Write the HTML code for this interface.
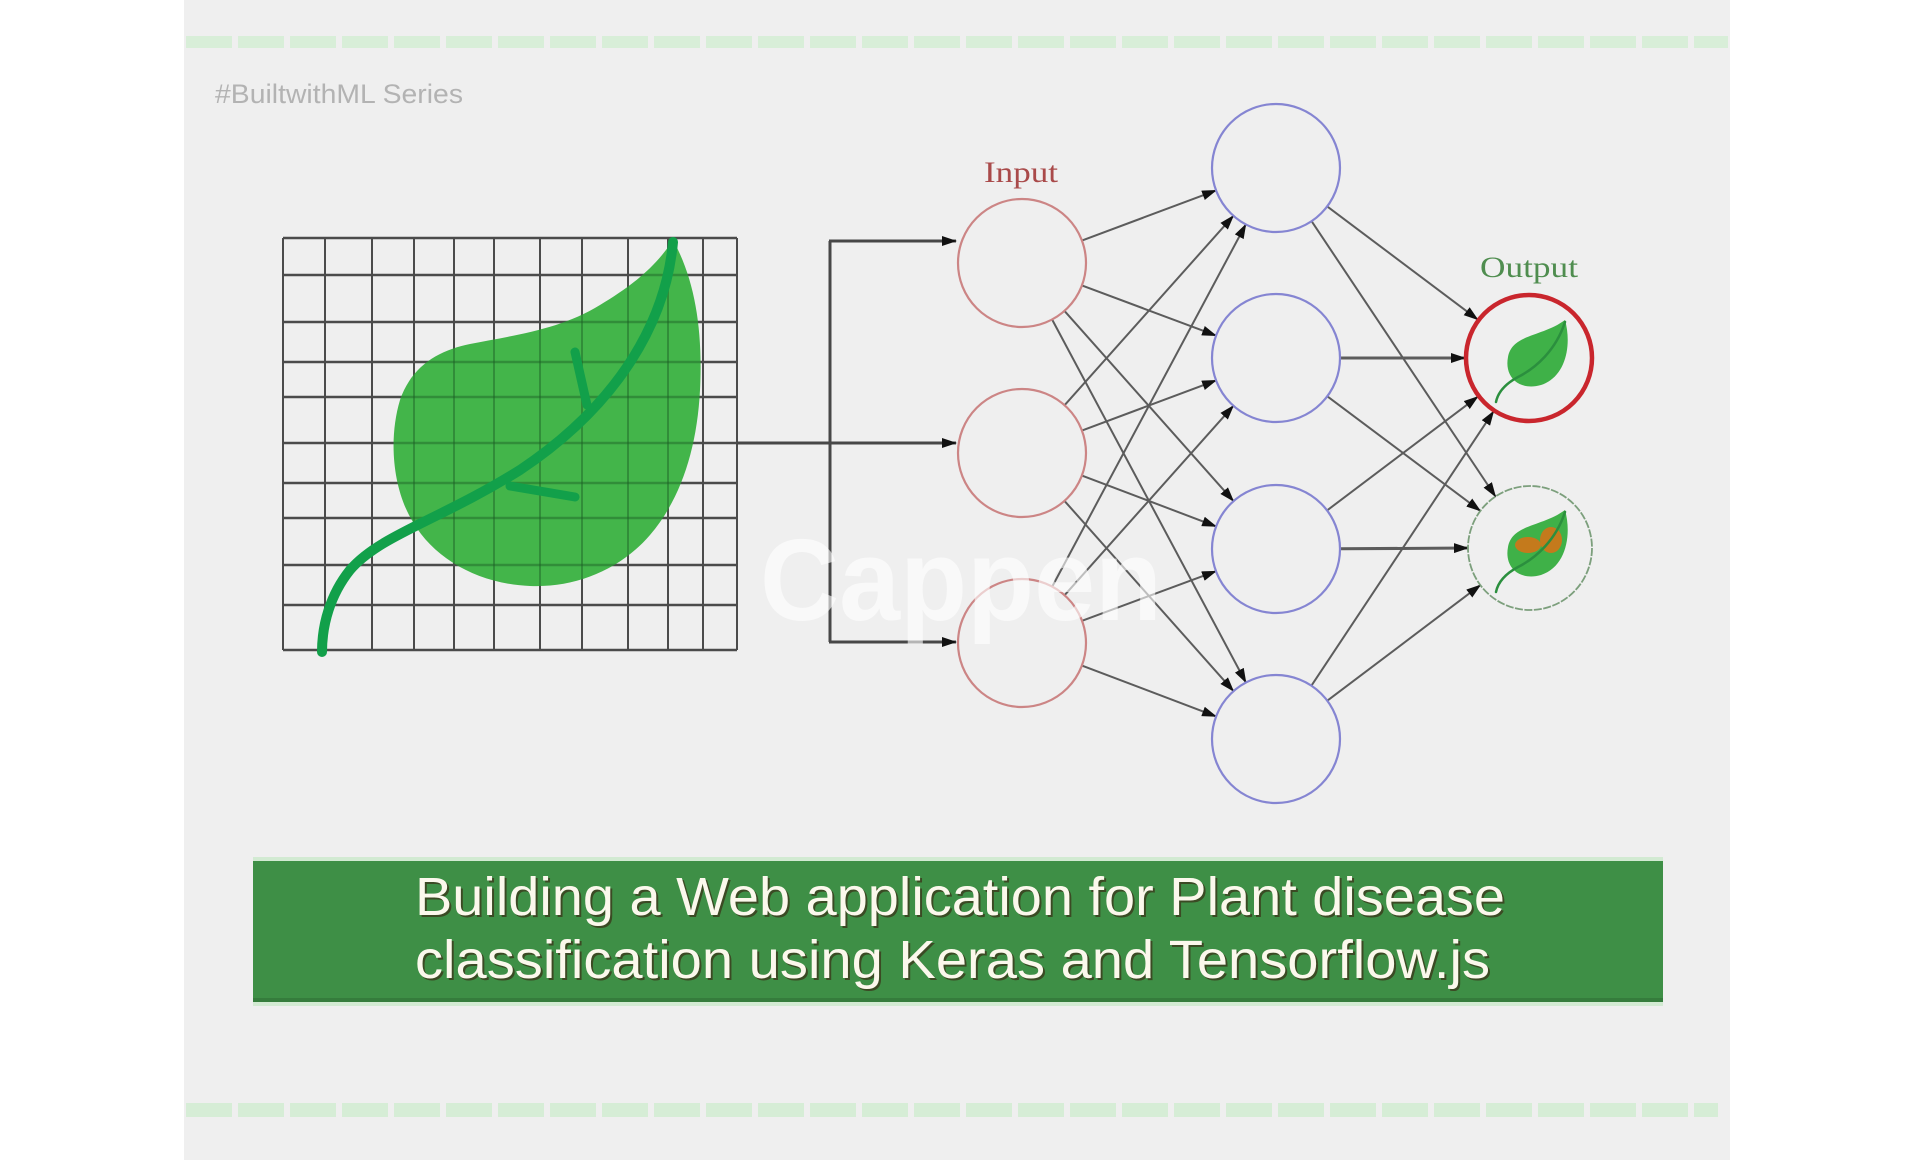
<!DOCTYPE html>
<html>
<head>
<meta charset="utf-8">
<style>
html,body{margin:0;padding:0;background:#ffffff;}
svg{display:block;}
</style>
</head>
<body>
<svg width="1920" height="1160" viewBox="0 0 1920 1160" xmlns="http://www.w3.org/2000/svg">
  <defs>
    <marker id="ah" markerUnits="userSpaceOnUse" markerWidth="16" markerHeight="10" refX="14" refY="5" orient="auto">
      <path d="M0,0 L15,5 L0,10 Z" fill="#111"/>
    </marker>
    <clipPath id="leafclip">
      <path d="M673,240 C695,280 703,330 700,390 C697,450 680,500 650,535 C620,570 575,588 530,586 C480,584 435,560 413,522 C393,490 388,440 400,400 C412,365 440,350 470,344 C510,336 560,330 600,305 C630,287 655,268 673,240 Z"/>
    </clipPath>
  </defs>

  <!-- panel -->
  <rect x="184" y="0" width="1546" height="1160" fill="#efefef"/>

  <!-- dashed strips -->
  <line x1="186" y1="42" x2="1728" y2="42" stroke="#d8eed8" stroke-width="12" stroke-dasharray="46 6"/>
  <line x1="186" y1="1110" x2="1718" y2="1110" stroke="#d6edd6" stroke-width="14" stroke-dasharray="46 6"/>

  <!-- series label -->
  <text x="215" y="103" font-family="Liberation Sans, sans-serif" font-size="27" fill="#b3b3b3" textLength="248" lengthAdjust="spacingAndGlyphs">#BuiltwithML Series</text>

  <!-- grid -->
  <g stroke="#4b4b4b" stroke-width="2">
    <line x1="283" y1="238" x2="283" y2="650"/>
    <line x1="325" y1="238" x2="325" y2="650"/>
    <line x1="372" y1="238" x2="372" y2="650"/>
    <line x1="414" y1="238" x2="414" y2="650"/>
    <line x1="454" y1="238" x2="454" y2="650"/>
    <line x1="494" y1="238" x2="494" y2="650"/>
    <line x1="540" y1="238" x2="540" y2="650"/>
    <line x1="582" y1="238" x2="582" y2="650"/>
    <line x1="628" y1="238" x2="628" y2="650"/>
    <line x1="668" y1="238" x2="668" y2="650"/>
    <line x1="703" y1="238" x2="703" y2="650"/>
    <line x1="737" y1="238" x2="737" y2="650"/>
  </g>
  <g stroke="#4b4b4b" stroke-width="2.6">
    <line x1="283" y1="238" x2="737" y2="238"/>
    <line x1="283" y1="275" x2="737" y2="275"/>
    <line x1="283" y1="322" x2="737" y2="322"/>
    <line x1="283" y1="362" x2="737" y2="362"/>
    <line x1="283" y1="397" x2="737" y2="397"/>
    <line x1="283" y1="443" x2="737" y2="443"/>
    <line x1="283" y1="483" x2="737" y2="483"/>
    <line x1="283" y1="518" x2="737" y2="518"/>
    <line x1="283" y1="565" x2="737" y2="565"/>
    <line x1="283" y1="605" x2="737" y2="605"/>
    <line x1="283" y1="650" x2="737" y2="650"/>
  </g>

  <!-- leaf body -->
  <path d="M673,240 C695,280 703,330 700,390 C697,450 680,500 650,535 C620,570 575,588 530,586 C480,584 435,560 413,522 C393,490 388,440 400,400 C412,365 440,350 470,344 C510,336 560,330 600,305 C630,287 655,268 673,240 Z" fill="#43b54a"/>
  <!-- faint grid over leaf -->
  <g clip-path="url(#leafclip)" stroke="#1d5e25" stroke-opacity="0.45">
    <g stroke-width="2">
      <line x1="414" y1="238" x2="414" y2="650"/>
      <line x1="454" y1="238" x2="454" y2="650"/>
      <line x1="494" y1="238" x2="494" y2="650"/>
      <line x1="540" y1="238" x2="540" y2="650"/>
      <line x1="582" y1="238" x2="582" y2="650"/>
      <line x1="628" y1="238" x2="628" y2="650"/>
      <line x1="668" y1="238" x2="668" y2="650"/>
    </g>
    <g stroke-width="2.6">
      <line x1="283" y1="275" x2="737" y2="275"/>
      <line x1="283" y1="322" x2="737" y2="322"/>
      <line x1="283" y1="362" x2="737" y2="362"/>
      <line x1="283" y1="397" x2="737" y2="397"/>
      <line x1="283" y1="443" x2="737" y2="443"/>
      <line x1="283" y1="483" x2="737" y2="483"/>
      <line x1="283" y1="518" x2="737" y2="518"/>
      <line x1="283" y1="565" x2="737" y2="565"/>
    </g>
  </g>
  <!-- stem and veins -->
  <path d="M673,242 C665,330 610,410 520,470 C440,520 380,535 350,570 C330,595 322,625 322,652" fill="none" stroke="#12a04a" stroke-width="10" stroke-linecap="round"/>
  <path d="M575,352 L587,405" stroke="#12a04a" stroke-width="9" stroke-linecap="round"/>
  <path d="M510,486 L575,497" stroke="#12a04a" stroke-width="9" stroke-linecap="round"/>

  <!-- grid -> input connectors -->
  <g stroke="#474747" stroke-width="3" fill="none">
    <line x1="737" y1="443" x2="956" y2="443" marker-end="url(#ah)"/>
    <line x1="830" y1="241" x2="830" y2="642"/>
    <line x1="829" y1="241" x2="956" y2="241" marker-end="url(#ah)"/>
    <line x1="829" y1="642" x2="956" y2="642" marker-end="url(#ah)"/>
  </g>

  <!-- input -> hidden -->
  <g stroke="#5c5c5c" stroke-width="2" fill="none" marker-end="url(#ah)">
    <line x1="1081.9" y1="240.6" x2="1216.1" y2="190.4"/>
    <line x1="1081.9" y1="285.4" x2="1216.1" y2="335.6"/>
    <line x1="1064.5" y1="310.9" x2="1233.5" y2="501.1"/>
    <line x1="1052.1" y1="319.5" x2="1245.9" y2="682.5"/>
    <line x1="1064.6" y1="405.2" x2="1233.4" y2="215.8"/>
    <line x1="1081.9" y1="430.6" x2="1216.1" y2="380.4"/>
    <line x1="1081.9" y1="475.6" x2="1216.1" y2="526.4"/>
    <line x1="1064.5" y1="500.9" x2="1233.5" y2="691.1"/>
    <line x1="1052.2" y1="586.6" x2="1245.8" y2="224.4"/>
    <line x1="1064.6" y1="595.2" x2="1233.4" y2="405.8"/>
    <line x1="1082" y1="620.8" x2="1216" y2="571.2"/>
    <line x1="1081.9" y1="665.6" x2="1216.1" y2="716.4"/>
  </g>

  <!-- hidden -> output -->
  <g stroke="#5c5c5c" stroke-width="2" fill="none" marker-end="url(#ah)">
    <line x1="1327.2" y1="206.4" x2="1477.8" y2="319.6"/>
    <line x1="1311.6" y1="221.2" x2="1495.5" y2="496.5"/>
    <line x1="1340" y1="358" x2="1465" y2="358" stroke-width="3"/>
    <line x1="1327.3" y1="396.3" x2="1480.4" y2="510.9"/>
    <line x1="1327.1" y1="510.4" x2="1477.9" y2="396.6"/>
    <line x1="1340" y1="548.8" x2="1468" y2="548" stroke-width="3"/>
    <line x1="1311.4" y1="685.7" x2="1493.6" y2="411.3"/>
    <line x1="1327.3" y1="700.7" x2="1480.4" y2="585.1"/>
  </g>

  <!-- input nodes -->
  <g fill="none" stroke="#cc8585" stroke-width="2.2">
    <circle cx="1022" cy="263" r="64"/>
    <circle cx="1022" cy="453" r="64"/>
    <circle cx="1022" cy="643" r="64"/>
  </g>
  <!-- hidden nodes -->
  <g fill="none" stroke="#8585d2" stroke-width="2.2">
    <circle cx="1276" cy="168" r="64"/>
    <circle cx="1276" cy="358" r="64"/>
    <circle cx="1276" cy="549" r="64"/>
    <circle cx="1276" cy="739" r="64"/>
  </g>
  <!-- output nodes -->
  <circle cx="1529" cy="358" r="63" fill="none" stroke="#c9262d" stroke-width="4.5"/>
  <circle cx="1530" cy="548" r="62" fill="none" stroke="#7c9f7c" stroke-width="1.8" stroke-dasharray="8 1.5"/>

  <!-- output leaf icons -->
  <g>
    <path d="M1565,320 C1572,345 1566,377 1541,385 C1520,391 1504,378 1508,357 C1512,334 1542,337 1565,320 Z" fill="#3fb148"/>
    <path d="M1565,322 C1556,350 1536,368 1518,377 C1505,384 1498,392 1496,402" fill="none" stroke="#2b8f3e" stroke-width="2.5" stroke-linecap="round"/>
  </g>
  <g>
    <path d="M1565,510 C1572,535 1566,567 1541,575 C1520,581 1504,568 1508,547 C1512,524 1542,527 1565,510 Z" fill="#3fb148"/>
    <ellipse cx="1528" cy="545" rx="13" ry="8" fill="#c47a1c"/>
    <ellipse cx="1551" cy="540" rx="11" ry="13" fill="#c47a1c"/>
    <path d="M1565,512 C1556,540 1536,558 1518,567 C1505,574 1498,582 1496,592" fill="none" stroke="#2b8f3e" stroke-width="2.5" stroke-linecap="round"/>
  </g>

  <!-- labels -->
  <text x="984" y="182" font-family="Liberation Serif, serif" font-size="30" fill="#a94a4a" textLength="74" lengthAdjust="spacingAndGlyphs">Input</text>
  <text x="1480" y="277" font-family="Liberation Serif, serif" font-size="30" fill="#4f8d4f" textLength="98" lengthAdjust="spacingAndGlyphs">Output</text>

  <!-- banner -->
  <rect x="253" y="857" width="1410" height="149" fill="#d2ead2"/>
  <rect x="253" y="861" width="1410" height="141" fill="#3e8f46"/>
  <rect x="253" y="998" width="1410" height="4" fill="#357c3c"/>
  <g font-family="Liberation Sans, sans-serif" font-size="54">
    <text x="417" y="917" fill="#3a2c16" fill-opacity="0.7" textLength="1090" lengthAdjust="spacingAndGlyphs">Building a Web application for Plant disease</text>
    <text x="417" y="980" fill="#3a2c16" fill-opacity="0.7" textLength="1075" lengthAdjust="spacingAndGlyphs">classification using Keras and Tensorflow.js</text>
    <text x="415" y="915" fill="#fbf8ec" textLength="1090" lengthAdjust="spacingAndGlyphs">Building a Web application for Plant disease</text>
    <text x="415" y="978" fill="#fbf8ec" textLength="1075" lengthAdjust="spacingAndGlyphs">classification using Keras and Tensorflow.js</text>
  </g>

  <!-- watermark -->
  <text x="760" y="620" font-family="Liberation Sans, sans-serif" font-weight="bold" font-size="116" fill="#ffffff" fill-opacity="0.6" textLength="402" lengthAdjust="spacingAndGlyphs">Cappen</text>
</svg>
</body>
</html>
